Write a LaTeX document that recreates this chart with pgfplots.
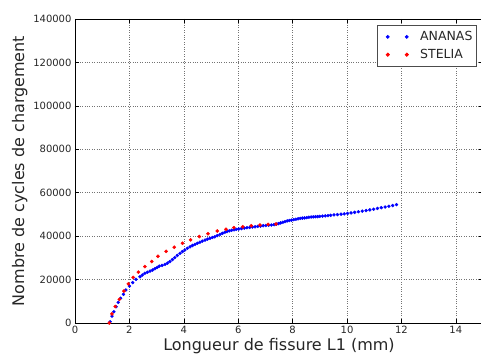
\documentclass[border=0pt]{standalone}
\usepackage{fontspec}
\setmainfont{DejaVu Sans}
\usepackage{pgfplots}
\pgfplotsset{compat=1.18}
\begin{document}
\begin{tikzpicture}[x=1pt,y=1pt]
\useasboundingbox (-75,-35) rectangle (406,323);
\begin{axis}[
  at={(0,0)}, anchor=south west,
  scale only axis, width=408pt, height=304pt,
  xmin=0, xmax=15, ymin=0, ymax=140000,
  xtick={0,2,...,14}, ytick={0,20000,...,140000},
  scaled y ticks=false,
  /pgf/number format/.cd, fixed, 1000 sep={}, assume math mode=true,
  /pgfplots/.cd,
  tick label style={font=\fontsize{10}{12}\selectfont, text=black!85},
  tick align=inside, major tick length=4pt,
  tick style={black, line width=0.6pt},
  grid=major, major grid style={dotted, black!55, line width=0.6pt},
  axis line style={black, line width=0.8pt},
  xlabel={Longueur de fissure L1 (mm)},
  ylabel={Nombre de cycles de chargement},
  label style={font=\fontsize{16}{18}\selectfont, text=black!85},
  xlabel style={yshift=3pt},
  ylabel style={yshift=-1pt},
  legend style={at={(rel axis cs:0.985,0.98)}, anchor=north east,
    font=\fontsize{12.5}{14}\selectfont, draw=black!70, line width=0.8pt,
    inner xsep=2pt, inner ysep=4pt, row sep=3pt, text=black!85},
  legend cell align=left,
  legend image code/.code={\path (-9pt,0pt) (29pt,0pt);
    \path[#1] plot coordinates {(-1pt,0pt) (18pt,0pt)};},
]
\addplot[only marks, mark=*, mark size=1.5pt, draw=blue, fill=blue] coordinates {
(1.29,600) (1.36,3200) (1.43,5200) (1.51,7500) (1.59,9500) (1.68,11400)
(1.78,13200) (1.87,15200) (2.00,17000) (2.12,18600) (2.24,20100) (2.39,21300)
(2.48,22100) (2.57,22900) (2.66,23400) (2.76,23900) (2.85,24400) (2.94,25000)
(3.02,25600) (3.10,26200) (3.20,26500) (3.31,27000) (3.40,27600) (3.49,28300)
(3.58,29200) (3.67,30100) (3.76,31100) (3.86,32100) (3.95,32900) (4.04,33600)
(4.13,34400) (4.23,35100) (4.32,35700) (4.41,36200) (4.50,36700) (4.59,37200)
(4.68,37700) (4.78,38200) (4.87,38600) (4.96,39000) (5.05,39400) (5.14,39700)
(5.23,40200) (5.33,40800) (5.42,41300) (5.51,41800) (5.59,42100) (5.67,42400)
(5.76,42700) (5.85,42900) (5.93,43100) (6.02,43300) (6.12,43500) (6.22,43700)
(6.32,43900) (6.42,44000) (6.52,44200) (6.62,44300) (6.72,44500) (6.82,44600)
(6.92,44800) (7.02,44900) (7.12,45000) (7.22,45100) (7.32,45300) (7.40,45500)
(7.48,45800) (7.56,46100) (7.64,46400) (7.72,46700) (7.80,47000) (7.88,47200)
(7.96,47400) (8.04,47600) (8.12,47800) (8.20,48000) (8.28,48200) (8.36,48300)
(8.44,48400) (8.52,48500) (8.60,48700) (8.68,48800) (8.76,48900) (8.84,48950)
(8.92,49000) (9.00,49100) (9.10,49200) (9.20,49300) (9.30,49450) (9.40,49600)
(9.52,49800) (9.65,49950) (9.78,50100) (9.90,50250) (10.02,50450) (10.15,50700)
(10.28,50950) (10.42,51250) (10.56,51550) (10.70,51800) (10.84,52100) (10.98,52400)
(11.12,52750) (11.26,53100) (11.40,53400) (11.54,53750) (11.68,54100) (11.82,54500)
};
\addlegendentry{ANANAS}
\addplot[only marks, mark=*, mark size=1.6pt, draw=red, fill=red] coordinates {
(1.26,0) (1.36,4200) (1.48,7600) (1.63,10900) (1.80,14700) (1.96,18000)
(2.14,21000) (2.33,23400) (2.57,26000) (2.82,28300) (3.05,30700) (3.35,33000)
(3.65,34900) (3.95,36700) (4.25,38300) (4.57,39800) (4.89,41100) (5.23,42400)
(5.55,43200) (5.84,43900) (6.17,44300) (6.48,44800) (6.80,45100) (7.10,45400)
(7.39,45600)
};
\addlegendentry{STELIA}
\end{axis}
\end{tikzpicture}
\end{document}
